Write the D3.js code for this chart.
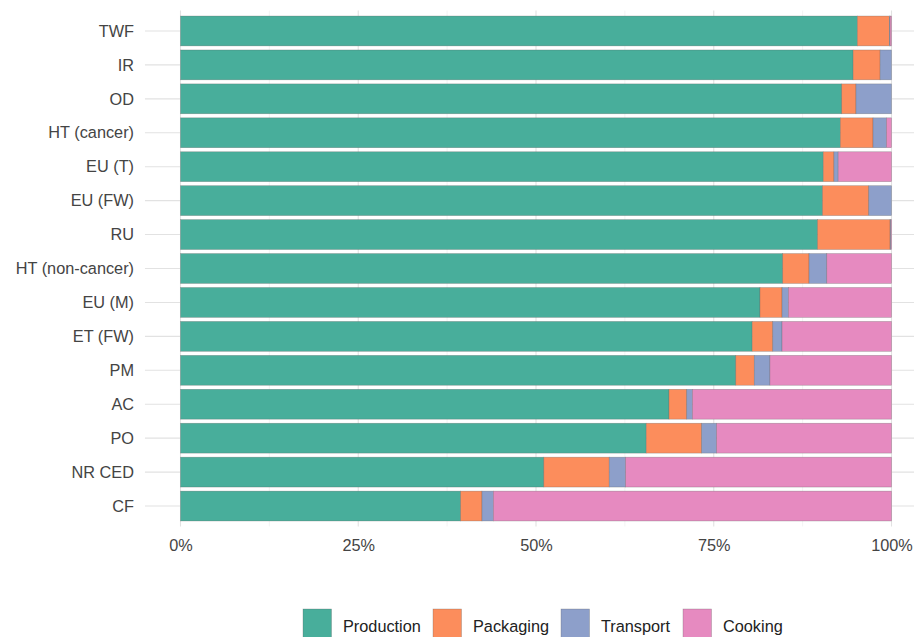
<!DOCTYPE html>
<html>
<head>
<meta charset="utf-8">
<script src="https://cdn.jsdelivr.net/npm/d3@7"></script>
<style>
  body { margin: 0; background: #fff; }
  text { font-family: "Liberation Sans", Arial, sans-serif; }
</style>
</head>
<body>
<div id="chart"></div>
<script>
// categories, top to bottom
var categories = ["TWF", "IR", "OD", "HT (cancer)", "EU (T)", "EU (FW)", "RU",
  "HT (non-cancer)", "EU (M)", "ET (FW)", "PM", "AC", "PO", "NR CED", "CF"];

var stages = ["Production", "Packaging", "Transport", "Cooking"];

// shares in %, same order as categories
var production = [95.2, 94.6, 93.0, 92.8, 90.4, 90.3, 89.6, 84.7, 81.5, 80.4, 78.1, 68.7, 65.5, 51.1, 39.4];
var packaging  = [4.5, 3.8, 2.0, 4.6, 1.5, 6.5, 10.2, 3.7, 3.1, 2.9, 2.6, 2.5, 7.8, 9.2, 3.0];
var transport  = [0.1, 1.6, 5.0, 1.9, 0.6, 3.2, 0.1, 2.5, 0.9, 1.3, 2.2, 0.8, 2.1, 2.3, 1.6];
var cooking    = [0.2, 0.0, 0.0, 0.7, 7.5, 0.0, 0.1, 9.1, 14.5, 15.4, 17.1, 28.0, 24.6, 37.4, 56.0];

var xTicks = [0, 0.25, 0.5, 0.75, 1];

var colors = ["#48ae9b", "#fc8d5c", "#8d9fca", "#e68ac0"];

var W = 914, H = 637;

var svg = d3.select("#chart").append("svg")
  .attr("width", W)
  .attr("height", H);

// table for the stack
var rows = categories.map(function(c, i) {
  return { cat: c, Production: production[i], Packaging: packaging[i],
           Transport: transport[i], Cooking: cooking[i] };
});
rows.forEach(function(r) {
  var tot = r.Production + r.Packaging + r.Transport + r.Cooking;
  stages.forEach(function(s) { r[s] = r[s] / tot; });
});

var x = d3.scaleLinear().domain([0, 1]).range([180.5, 891.5]);
var panelLeft = x(-0.05), panelRight = x(1.05);
var panelTop = 10.6, panelBottom = 526.4;

var y = d3.scaleBand()
  .domain(categories)
  .range([panelTop, panelBottom])
  .paddingInner(0.12)
  .paddingOuter(0.16);

var color = d3.scaleOrdinal().domain(stages).range(colors);

// grid
var grid = svg.append("g");
grid.selectAll("line.minor")
  .data([0.125, 0.375, 0.625, 0.875])
  .enter().append("line")
  .attr("x1", d => x(d)).attr("x2", d => x(d))
  .attr("y1", panelTop).attr("y2", panelBottom)
  .attr("stroke", "#ececec").attr("stroke-width", 0.6);
grid.selectAll("line.major")
  .data(xTicks)
  .enter().append("line")
  .attr("x1", d => x(d)).attr("x2", d => x(d))
  .attr("y1", panelTop).attr("y2", panelBottom)
  .attr("stroke", "#e2e2e2").attr("stroke-width", 1.1);
grid.selectAll("line.hz")
  .data(categories)
  .enter().append("line")
  .attr("x1", panelLeft).attr("x2", panelRight)
  .attr("y1", d => y(d) + y.bandwidth() / 2)
  .attr("y2", d => y(d) + y.bandwidth() / 2)
  .attr("stroke", "#e2e2e2").attr("stroke-width", 1.1);

// bars
var series = d3.stack().keys(stages)(rows);

svg.append("g").selectAll("g")
  .data(series)
  .enter().append("g")
  .attr("fill", d => color(d.key))
  .selectAll("rect")
  .data(d => d)
  .enter().append("rect")
  .attr("x", d => x(d[0]))
  .attr("y", d => y(d.data.cat))
  .attr("width", d => Math.max(0, x(d[1]) - x(d[0])))
  .attr("height", y.bandwidth())
  .attr("stroke", "rgba(90,90,90,0.45)")
  .attr("stroke-width", 0.6);

// y labels
svg.append("g").selectAll("text")
  .data(categories)
  .enter().append("text")
  .attr("x", 134)
  .attr("y", d => y(d) + y.bandwidth() / 2)
  .attr("dy", "0.35em")
  .attr("text-anchor", "end")
  .attr("fill", "#444")
  .style("font-size", "16.3px")
  .text(d => d);

// x axis labels
var xAxis = d3.axisBottom(x)
  .tickValues(xTicks)
  .tickFormat(d3.format(".0%"))
  .tickSize(0)
  .tickPadding(0);

var gx = svg.append("g")
  .attr("transform", "translate(0," + 539 + ")")
  .call(xAxis);
gx.select(".domain").remove();
gx.selectAll("text")
  .attr("fill", "#444")
  .style("font-size", "16.3px")
  .style("font-family", "'Liberation Sans', Arial, sans-serif");

// legend
var legendX = [303, 433, 561, 683];
var lg = svg.append("g").selectAll("g")
  .data(stages)
  .enter().append("g")
  .attr("transform", (d, i) => "translate(" + legendX[i] + ",609)");
lg.append("rect")
  .attr("width", 28.5).attr("height", 28.5)
  .attr("fill", d => color(d))
  .attr("stroke", "rgba(90,90,90,0.45)")
  .attr("stroke-width", 0.6);
lg.append("text")
  .attr("x", 40)
  .attr("y", 17.5)
  .attr("dy", "0.35em")
  .attr("fill", "#222")
  .style("font-size", "16.3px")
  .text(d => d);
</script>
</body>
</html>
